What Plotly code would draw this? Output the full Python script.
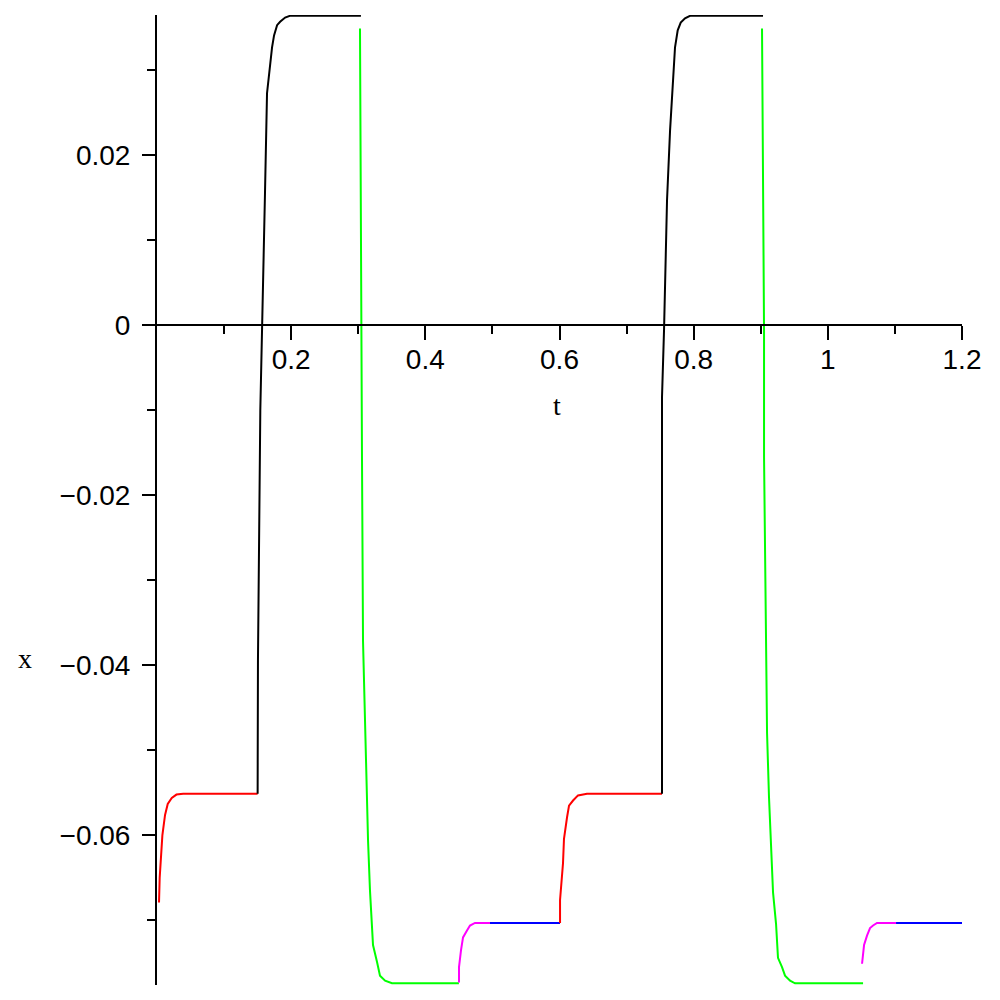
import plotly.graph_objects as go

# segments of the response (t, x)
red1_t = [0.003, 0.004, 0.008, 0.012, 0.016, 0.022, 0.029, 0.039, 0.150]
red1_x = [-0.0679, -0.0650, -0.0600, -0.0576, -0.0563, -0.0556, -0.0552, -0.0551, -0.0551]

black1_t = [0.150, 0.1505, 0.154, 0.157, 0.159, 0.161, 0.164, 0.1685, 0.1715, 0.1745, 0.179, 0.1835, 0.191, 0.198, 0.304]
black1_x = [-0.0551, -0.0394, -0.0100, 0.0000, 0.0060, 0.0156, 0.0273, 0.0306, 0.0327, 0.0341, 0.0353, 0.0357, 0.0362, 0.0364, 0.0364]

green1_t = [0.3026, 0.3041, 0.3056, 0.3071, 0.3116, 0.3146, 0.3175, 0.322, 0.328, 0.3324, 0.340, 0.3503, 0.450]
green1_x = [0.0349, -0.0006, -0.0159, -0.0371, -0.0520, -0.0606, -0.0665, -0.0729, -0.0749, -0.0765, -0.0771, -0.0774, -0.0774]

magenta1_t = [0.4502, 0.4502, 0.4532, 0.4562, 0.4621, 0.4666, 0.474, 0.4964]
magenta1_x = [-0.0773, -0.0755, -0.0735, -0.0720, -0.0712, -0.0706, -0.0703, -0.0703]

blue1_t = [0.4964, 0.6008]
blue1_x = [-0.0703, -0.0703]

red2_t = [0.6008, 0.6008, 0.6052, 0.6067, 0.6112, 0.6142, 0.6202, 0.6276, 0.641, 0.7528]
red2_x = [-0.0703, -0.0676, -0.0633, -0.0604, -0.0579, -0.0565, -0.0559, -0.0553, -0.0551, -0.0551]

black2_t = [0.7528, 0.7528, 0.7558, 0.7603, 0.7648, 0.7677, 0.7692, 0.7722, 0.7762, 0.7807, 0.7871, 0.7946, 0.9034]
black2_x = [-0.0551, -0.0085, -0.0006, 0.0147, 0.0229, 0.0265, 0.0294, 0.0327, 0.0347, 0.0356, 0.0361, 0.0364, 0.0364]

green2_t = [0.9019, 0.9049, 0.9049, 0.9094, 0.9123, 0.9153, 0.9183, 0.9228, 0.9257, 0.9317, 0.9362, 0.9437, 0.9511, 1.0525]
green2_x = [0.0349, -0.0006, -0.0155, -0.0480, -0.0555, -0.0606, -0.0667, -0.0704, -0.0744, -0.0755, -0.0765, -0.0771, -0.0774, -0.0774]

magenta2_t = [1.051, 1.054, 1.0584, 1.0629, 1.0674, 1.0733, 1.1017]
magenta2_x = [-0.0751, -0.0729, -0.0718, -0.0709, -0.0706, -0.0703, -0.0703]

blue2_t = [1.1017, 1.200]
blue2_x = [-0.0703, -0.0703]

x_ticks = [0.2, 0.4, 0.6, 0.8, 1, 1.2]
x_ticktext = ["0.2", "0.4", "0.6", "0.8", "1", "1.2"]
x_minor = [0.1, 0.3, 0.5, 0.7, 0.9, 1.1]
y_ticks = [0.02, 0, -0.02, -0.04, -0.06]
y_ticktext = ["0.02", "0", "\u22120.02", "\u22120.04", "\u22120.06"]
y_minor = [0.03, 0.01, -0.01, -0.03, -0.05, -0.07]

x_range = [0, 1.2]
y_range = [-0.0776, 0.0365]

segments = [
    (red1_t, red1_x, "#ff0000"),
    (black1_t, black1_x, "#000000"),
    (green1_t, green1_x, "#00ff00"),
    (magenta1_t, magenta1_x, "#ff00ff"),
    (blue1_t, blue1_x, "#0000ff"),
    (red2_t, red2_x, "#ff0000"),
    (black2_t, black2_x, "#000000"),
    (green2_t, green2_x, "#00ff00"),
    (magenta2_t, magenta2_x, "#ff00ff"),
    (blue2_t, blue2_x, "#0000ff"),
]

fig = go.Figure()
for t, x, c in segments:
    fig.add_trace(go.Scatter(x=t, y=x, mode="lines", line=dict(color=c, width=2), showlegend=False))

tick_font = dict(family="Liberation Sans", size=28, color="black")
xpos = (0 - y_range[0]) / (y_range[1] - y_range[0])

fig.update_layout(
    width=1000,
    height=1000,
    margin=dict(l=149, r=46, t=7, b=23),
    plot_bgcolor="white",
    paper_bgcolor="white",
    xaxis=dict(
        range=x_range,
        anchor="free",
        position=xpos,
        showline=True,
        linecolor="black",
        linewidth=2,
        showgrid=False,
        zeroline=False,
        ticks="outside",
        ticklen=14,
        tickwidth=2,
        tickcolor="black",
        tickvals=x_ticks,
        ticktext=x_ticktext,
        tickfont=tick_font,
        ticklabelstandoff=-5,
        minor=dict(tickvals=x_minor, ticks="outside", ticklen=8, tickwidth=2, tickcolor="black"),
    ),
    yaxis=dict(
        range=y_range,
        showline=True,
        linecolor="black",
        linewidth=2,
        showgrid=False,
        zeroline=False,
        ticks="outside",
        ticklen=13,
        tickwidth=2,
        tickcolor="black",
        tickvals=y_ticks,
        ticktext=y_ticktext,
        tickfont=tick_font,
        ticklabelstandoff=6,
        minor=dict(tickvals=y_minor, ticks="outside", ticklen=8, tickwidth=2, tickcolor="black"),
    ),
    annotations=[
        dict(text="t", xref="paper", yref="paper", x=0.497, y=0.597, showarrow=False,
             font=dict(family="Liberation Serif", size=28, color="black")),
        dict(text="x", xref="paper", yref="paper", x=-0.175, y=0.337, showarrow=False,
             font=dict(family="Liberation Serif", size=28, color="black")),
    ],
)

fig.write_html("out.html")
